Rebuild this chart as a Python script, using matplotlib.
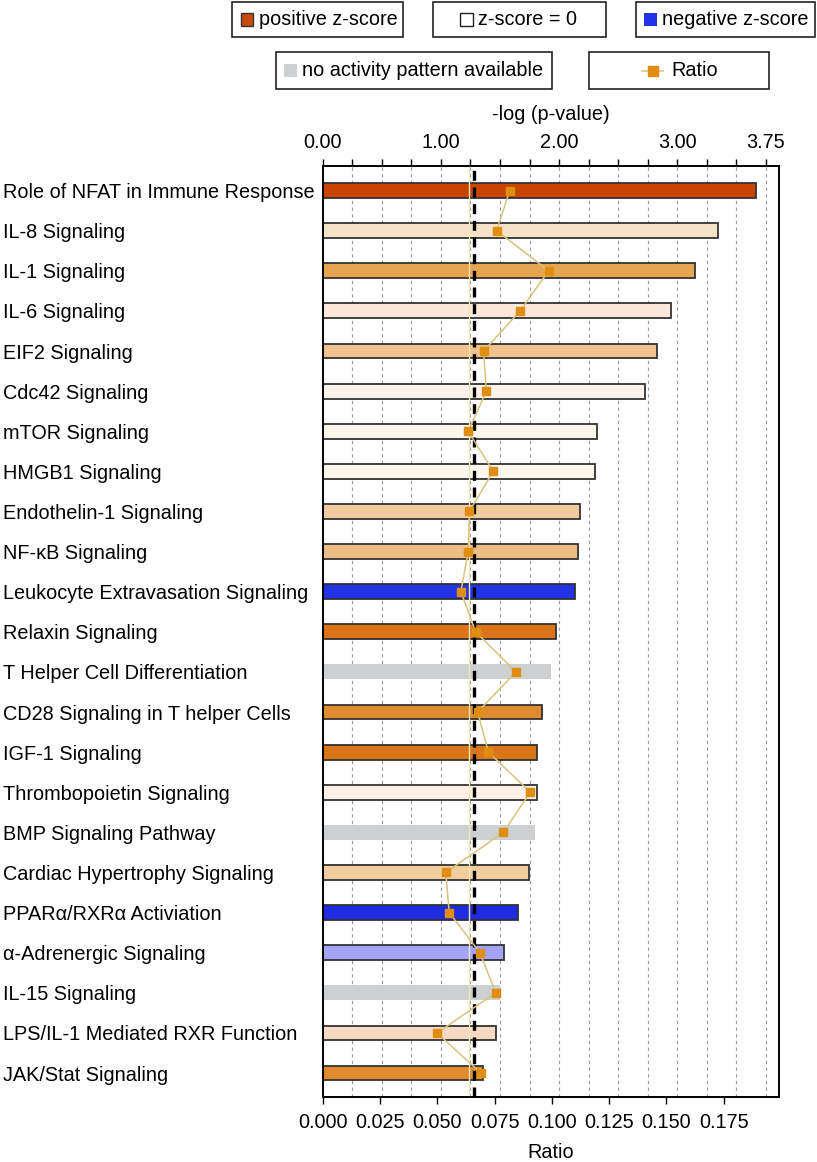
import numpy as np
import matplotlib
matplotlib.use('Agg')
import matplotlib.pyplot as plt
from matplotlib.patches import Rectangle
from matplotlib.lines import Line2D

plt.rcParams['font.family'] = ['Liberation Sans', 'DejaVu Sans']

W, H = 817, 1162

pathways = ['Role of NFAT in Immune Response', 'IL-8 Signaling', 'IL-1 Signaling',
            'IL-6 Signaling', 'EIF2 Signaling', 'Cdc42 Signaling', 'mTOR Signaling',
            'HMGB1 Signaling', 'Endothelin-1 Signaling', 'NF-\u03baB Signaling',
            'Leukocyte Extravasation Signaling', 'Relaxin Signaling',
            'T Helper Cell Differentiation', 'CD28 Signaling in T helper Cells',
            'IGF-1 Signaling', 'Thrombopoietin Signaling', 'BMP Signaling Pathway',
            'Cardiac Hypertrophy Signaling', 'PPAR\u03b1/RXR\u03b1 Activiation',
            '\u03b1-Adrenergic Signaling', 'IL-15 Signaling',
            'LPS/IL-1 Mediated RXR Function', 'JAK/Stat Signaling']

neg_log_p = [3.666, 3.345, 3.147, 2.95, 2.828, 2.727, 2.318, 2.30, 2.177, 2.157,
             2.137, 1.976, 1.929, 1.853, 1.81, 1.81, 1.796, 1.748, 1.65, 1.537,
             1.50, 1.466, 1.359]

ratio = [0.0816, 0.0759, 0.0986, 0.0861, 0.0702, 0.0714, 0.0635, 0.0744, 0.064,
         0.0635, 0.0603, 0.0667, 0.0843, 0.0676, 0.0723, 0.0906, 0.0788, 0.0537,
         0.0552, 0.0686, 0.0755, 0.0499, 0.069]

bar_colors = ['#C84400', '#F6E2C6', '#E6A551', '#FBE8DA', '#EFC28E', '#FEF3EC',
              '#FEF6EB', '#FEF7EE', '#F1CAA0', '#EDBD88', '#2233E6', '#DB7517',
              '#CCD0D2', '#DF8A31', '#DB7618', '#FDF0E6', '#CCD0D2', '#F2CD9E',
              '#1E2BE0', '#A3A3F7', '#CCD0D2', '#F6D9C2', '#E08B2E']
no_pattern = '#CCD0D2'

threshold = 1.28
ratio_threshold = 0.0638

top_ticks = np.arange(0, 3.76, 0.25)
top_labels = {0.0: '0.00', 1.0: '1.00', 2.0: '2.00', 3.0: '3.00', 3.75: '3.75'}
ratio_ticks = [0.000, 0.025, 0.050, 0.075, 0.100, 0.125, 0.150, 0.175]

fs = 14.3

fig = plt.figure(figsize=(W / 100, H / 100), dpi=100)
ax = fig.add_axes([322.7 / W, 1 - 1096.7 / H, (779 - 322.7) / W, (1096.7 - 165.7) / H])
ax2 = ax.twiny()

y = np.arange(len(pathways))
edges = ['none' if c == no_pattern else '#333333' for c in bar_colors]
ax.barh(y, neg_log_p, height=0.37, color=bar_colors, edgecolor=edges,
        linewidth=1.3, zorder=2)
ax.axvline(threshold, color='black', linestyle=(0, (3, 2)), linewidth=2.4, zorder=3)

ax.set_xlim(0, 3.861)
ax.set_ylim(22.59, -0.62)
ax.set_axisbelow(True)
ax.xaxis.tick_top()
ax.xaxis.set_label_position('top')
ax.set_xticks(top_ticks)
ax.set_xticklabels([top_labels.get(round(t, 2), '') for t in top_ticks], fontsize=fs)
ax.tick_params(axis='x', direction='out', length=5, width=1, pad=5)
ax.grid(axis='x', color='#999999', linestyle=(0, (3, 3)), linewidth=0.8)
ax.set_xlabel('-log (p-value)', fontsize=fs, labelpad=9)

ax.set_yticks(y)
ax.set_yticklabels(pathways, fontsize=fs)
ax.tick_params(axis='y', length=0, pad=230)
for lbl in ax.get_yticklabels():
    lbl.set_ha('left')

ax2.set_xlim(0, 0.1991)
ax2.axvline(ratio_threshold, color='#F3E7B8', linewidth=1, zorder=1)
ax2.plot(ratio, y, color='#D8C27E', linewidth=1.1, marker='s', markersize=5.5,
         markerfacecolor='#E08E12', markeredgecolor='#E08E12', zorder=4)
ax2.xaxis.tick_bottom()
ax2.xaxis.set_label_position('bottom')
ax2.set_xticks(ratio_ticks)
ax2.set_xticklabels(['%.3f' % t for t in ratio_ticks], fontsize=fs)
ax2.tick_params(axis='x', direction='out', length=5, width=1, pad=7)
ax2.set_xlabel('Ratio', fontsize=fs, labelpad=8)

for a in (ax, ax2):
    for s in a.spines.values():
        s.set_linewidth(1.2)
        s.set_color('black')


# legend boxes drawn in pixel coords
def fx(px):
    return px / W


def fy(py):
    return 1 - py / H


def box(x0, x1, y0, y1):
    fig.add_artist(Rectangle((fx(x0), fy(y1)), fx(x1) - fx(x0), fy(y0) - fy(y1),
                             transform=fig.transFigure, facecolor='white',
                             edgecolor='#222222', linewidth=1.2))


def swatch(x0, yc, color, edge):
    s = 12.5
    fig.add_artist(Rectangle((fx(x0), fy(yc + s / 2)), s / W, s / H,
                             transform=fig.transFigure, facecolor=color,
                             edgecolor=edge, linewidth=1))


legend_rows = [
    (232, 403, 2, 37, 241, '#C94A0C', '#333333', 'positive z-score'),
    (433, 606, 2, 37, 460, 'white', '#222222', 'z-score = 0'),
    (636, 815, 2, 37, 644, '#2233E6', 'none', 'negative z-score'),
    (276, 552, 52, 89, 284, no_pattern, 'none', 'no activity pattern available'),
]
for x0, x1, y0, y1, sx, col, ec, txt in legend_rows:
    box(x0, x1, y0, y1)
    yc = (y0 + y1) / 2
    swatch(sx, yc, col, ec)
    fig.text(fx(sx + 18), fy(yc), txt, fontsize=fs, va='center', ha='left')

box(589, 769, 52, 89)
fig.add_artist(Line2D([fx(642), fx(663)], [fy(70.5), fy(70.5)], transform=fig.transFigure,
                      color='#D8C27E', linewidth=1.1, marker='', zorder=5))
fig.add_artist(Line2D([fx(652.5)], [fy(70.5)], transform=fig.transFigure, marker='s',
                      markersize=7.5, color='#E08E12', linestyle='none', zorder=6))
fig.text(fx(671), fy(70.5), 'Ratio', fontsize=fs, va='center', ha='left')

fig.savefig('out.png', dpi=100)
